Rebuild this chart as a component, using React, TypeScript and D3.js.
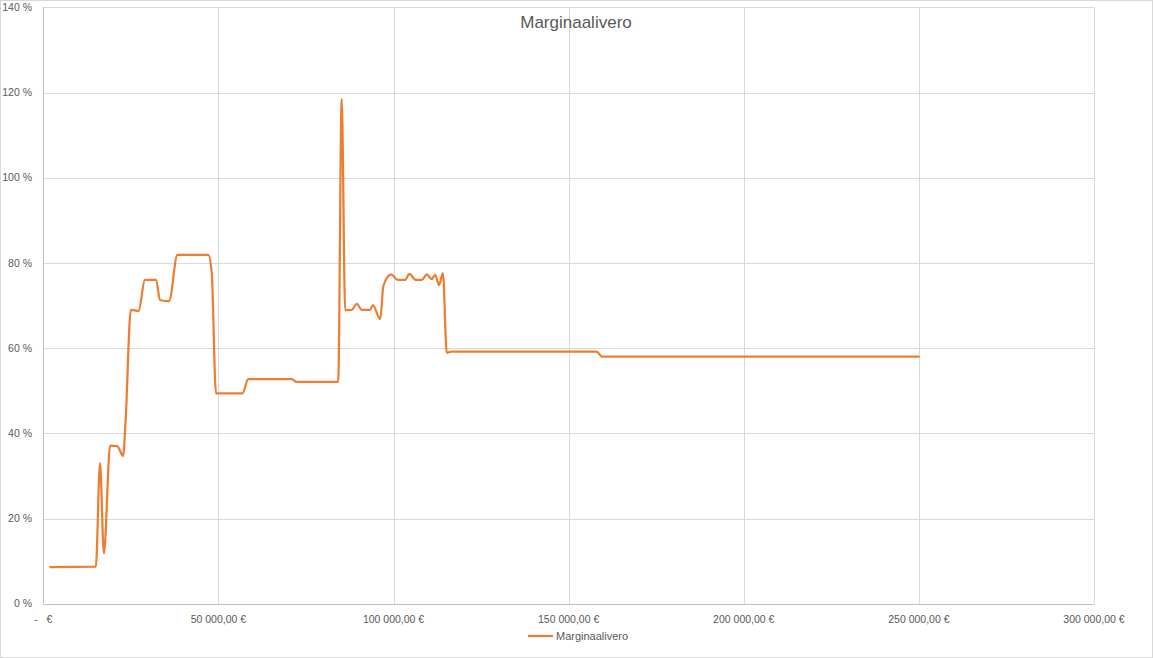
import React from "react";
import * as d3 from "d3";

const incomes = [2000, 15000, 16200, 17300, 19100, 21100, 22800, 23500, 25000, 27200, 29000, 32200, 33300, 35900, 38300, 47100, 48100, 49300, 56900, 58500, 70900, 72200, 84200, 85200, 86200, 88100, 89500, 90900, 93300, 94100, 96200, 97100, 99300, 101200, 103300, 104500, 106400, 108100, 109500, 110900, 111900, 113000, 114100, 115200, 116500, 158000, 159500, 250000];
const rates = [8.6, 8.7, 33, 11.8, 37.1, 37, 34.7, 43, 69, 68.7, 76, 76, 71.3, 71, 81.9, 81.9, 77.6, 49.4, 49.4, 52.7, 52.7, 52.1, 52.1, 118.5, 68.9, 69, 70.4, 69, 69, 70.1, 66.8, 74.6, 77.3, 76, 76, 77.4, 76, 76, 77.3, 76.2, 77.2, 74.8, 77.6, 58.9, 59.2, 59.2, 58, 58];
const xTicks = [0, 50000, 100000, 150000, 200000, 250000, 300000];
const yTicks = [0, 20, 40, 60, 80, 100, 120, 140];
const seriesName = "Marginaalivero";
const title = "Marginaalivero";

const W = 1153;
const H = 658;
const font = "'Liberation Sans', Arial, sans-serif";
const textColor = "#595959";

function fmtEuro(v: number): string {
  if (v === 0) return "-   €";
  const s = d3.format(",.2f")(v);
  return s.replace(/,/g, " ").replace(".", ",") + " €";
}

export default function App() {
  const x = d3.scaleLinear().domain([0, 300000]).range([43.3, 1094]);
  const y = d3.scaleLinear().domain([0, 140]).range([603.7, 7.3]);
  const data = incomes.map((v, i) => [v, rates[i]] as [number, number]);
  const line = d3
    .line<[number, number]>()
    .x((d) => x(d[0]))
    .y((d) => y(d[1]))
    .curve(d3.curveMonotoneX);

  return (
    <svg
      width={W}
      height={H}
      style={{ position: "absolute", left: 0, top: 0, background: "#fff" }}
      fontFamily={font}
    >
      <rect x={0.5} y={0.5} width={W - 1} height={H - 1} fill="#fff" stroke="#D9D9D9" />
      {yTicks.map((t) => (
        <line key={"gy" + t} x1={x(0)} x2={x(300000)} y1={Math.round(y(t)) + 0.5} y2={Math.round(y(t)) + 0.5} stroke={t === 0 ? "#BFBFBF" : "#D9D9D9"} strokeWidth={1} />
      ))}
      {xTicks.map((t) => (
        <line key={"gx" + t} x1={Math.round(x(t)) + 0.5} x2={Math.round(x(t)) + 0.5} y1={y(140)} y2={y(0)} stroke={t === 0 ? "#BFBFBF" : "#D9D9D9"} strokeWidth={1} />
      ))}
      {yTicks.map((t) => (
        <text key={"ty" + t} x={32} y={y(t)} dy="0.35em" textAnchor="end" fontSize={10.5} fill={textColor}>
          {t + " %"}
        </text>
      ))}
      {xTicks.map((t) => (
        <text key={"tx" + t} x={x(t)} y={623} textAnchor="middle" fontSize={10.5} fill={textColor} style={{ whiteSpace: "pre" }}>
          {fmtEuro(t)}
        </text>
      ))}
      <path d={line(data) || ""} fill="none" stroke="#ED7D31" strokeWidth={2.25} strokeLinejoin="round" strokeLinecap="round" />
      <text x={576} y={28} textAnchor="middle" fontSize={17} fill={textColor}>
        {title}
      </text>
      <line x1={528} x2={553} y1={636} y2={636} stroke="#ED7D31" strokeWidth={2.25} />
      <text x={556} y={636} dy="0.35em" fontSize={11} fill={textColor}>
        {seriesName}
      </text>
    </svg>
  );
}
